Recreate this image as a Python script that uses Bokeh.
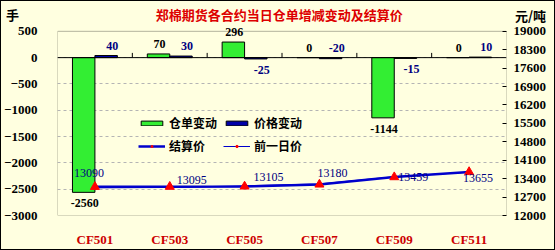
from bokeh.plotting import figure
from bokeh.models import (Range1d, LinearAxis, FixedTicker, Label, Legend,
                          LegendItem, Span, ColumnDataSource, BoxAnnotation, Plot)
from bokeh.layouts import column
from bokeh.transform import dodge
from bokeh.embed import file_html
from bokeh.resources import INLINE

# ---------------- data ----------------
categories = ["CF501", "CF503", "CF505", "CF507", "CF509", "CF511"]
warehouse_change = [-2560, 70, 296, 0, -1144, 0]      # 仓单变动 (手)
price_change = [40, 30, -25, -20, -15, 10]            # 价格变动
settle_price = [13090, 13095, 13105, 13180, 13459, 13655]   # 结算价 (元/吨)
prev_price = [13050, 13065, 13130, 13200, 13474, 13645]     # 前一日价
left_ticks = [-3000, -2500, -2000, -1500, -1000, -500, 0, 500]
right_ticks = [12000, 12700, 13400, 14100, 14800, 15500, 16200, 16900,
               17600, 18300, 19000]
title_text = "郑棉期货各合约当日仓单增减变动及结算价"
left_unit = "手"
right_unit = "元/吨"

# ---------------- layout / style constants ----------------
BG = "#FFFFE0"
GREEN = "#33EE33"
BLUE = "#0000A8"
LINE_BLUE = "#0000CC"
DARK_RED = "#CC0000"
TITLE_RED = "#DD0000"
NAVY = "#000080"
NUM_FONT = "Liberation Serif"
CJK_FONT = "Noto Sans CJK SC"

W = 553                 # canvas width (inside 1px border)
STRIP_H = 23            # height of the heading strip
MAIN_H = 225            # height of the chart canvas
FRAME_L = 52            # frame left (canvas px)
FRAME_R = 505           # frame right (canvas px)
BOX_TOP_PX = 7          # px between chart canvas top and plot-area top
BOX_H_PX = 189          # plot-area height in px
MAIN_BOTTOM = 29

LABEL_ABOVE_ZERO = {"CF507"}     # categories whose labels sit above the zero line
price_dx = [-6, 22, 24, 13, 19, 9]
price_dy = [14, 7, 9, 11, 0, -6]

extra = {"frame_align": False} if "frame_align" in Plot.properties() else {}

xs = list(range(len(categories)))
n = len(categories)
ux = n / (FRAME_R - FRAME_L)           # data units per px horizontally
x_lo, x_hi = -0.5, n - 0.5

lspan = left_ticks[-1] - left_ticks[0]
rspan = right_ticks[-1] - right_ticks[0]
y_top = left_ticks[-1] + lspan / BOX_H_PX * BOX_TOP_PX
r_top = right_ticks[-1] + rspan / BOX_H_PX * BOX_TOP_PX

# ---------------- heading strip ----------------
strip = figure(width=W, height=STRIP_H, output_backend="svg", toolbar_location=None,
               x_range=Range1d(x_lo - FRAME_L * ux, x_lo + (W - FRAME_L) * ux),
               y_range=Range1d(STRIP_H, 0),
               x_axis_type=None, y_axis_type=None,
               min_border=0, min_border_left=0, min_border_right=0,
               min_border_top=0, min_border_bottom=0,
               background_fill_color=BG, border_fill_color=BG,
               outline_line_color=None, **extra)
strip.grid.visible = False

strip.add_layout(Label(x=(x_lo + x_hi) / 2 - 0.01, y=13, text=title_text,
                       text_align="center", text_baseline="middle",
                       text_font=CJK_FONT, text_font_style="bold",
                       text_font_size="13px", text_color=TITLE_RED))
strip.add_layout(Label(x=x_lo - 41 * ux, y=13, text=left_unit,
                       text_align="center", text_baseline="middle",
                       text_font=CJK_FONT, text_font_style="bold",
                       text_font_size="13px", text_color="black"))
strip.add_layout(Label(x=x_lo + (FRAME_R - FRAME_L + 24) * ux, y=13.5,
                       text=right_unit, text_align="center",
                       text_baseline="middle", text_font=CJK_FONT,
                       text_font_style="bold", text_font_size="13px",
                       text_color="black"))

# ---------------- main chart ----------------
p = figure(width=W, height=MAIN_H, output_backend="svg", toolbar_location=None,
           x_range=Range1d(x_lo, x_hi),
           y_range=Range1d(left_ticks[0], y_top),
           min_border_left=FRAME_L, min_border_right=W - FRAME_R,
           min_border_top=0, min_border_bottom=MAIN_BOTTOM,
           background_fill_color=BG, border_fill_color=BG,
           outline_line_color=None, **extra)
p.extra_y_ranges = {"price": Range1d(right_ticks[0], r_top)}

p.yaxis.ticker = FixedTicker(ticks=left_ticks)
p.yaxis.major_tick_line_color = None
p.yaxis.minor_tick_line_color = None
p.yaxis.axis_line_color = None
p.yaxis.major_label_standoff = 14
p.yaxis.major_label_text_font = NUM_FONT
p.yaxis.major_label_text_font_style = "bold"
p.yaxis.major_label_text_font_size = "13px"
p.yaxis.major_label_text_color = "black"

p.xaxis.ticker = FixedTicker(ticks=xs)
p.xaxis.major_label_overrides = {i: c for i, c in zip(xs, categories)}
p.xaxis.major_tick_line_color = None
p.xaxis.minor_tick_line_color = None
p.xaxis.axis_line_color = None
p.xaxis.major_label_standoff = 10
p.xaxis.major_label_text_font = NUM_FONT
p.xaxis.major_label_text_font_style = "bold"
p.xaxis.major_label_text_font_size = "13px"
p.xaxis.major_label_text_color = DARK_RED

raxis = LinearAxis(y_range_name="price", ticker=FixedTicker(ticks=right_ticks))
raxis.major_tick_in = 4
raxis.major_tick_out = 0
raxis.major_tick_line_color = "black"
raxis.minor_tick_line_color = None
raxis.axis_line_color = None
raxis.major_label_standoff = 7
raxis.major_label_text_font = NUM_FONT
raxis.major_label_text_font_style = "bold"
raxis.major_label_text_font_size = "13px"
raxis.major_label_text_color = "black"
p.add_layout(raxis, "right")

p.xgrid.grid_line_color = None
p.ygrid.ticker = FixedTicker(ticks=left_ticks[1:-1])
p.ygrid.grid_line_color = "#B4B4B4"
p.ygrid.grid_line_dash = "3 3"

# plot-area box, zero line, category separators
p.add_layout(BoxAnnotation(left=x_lo, right=x_hi, bottom=left_ticks[0],
                           top=left_ticks[-1], fill_alpha=0,
                           line_color="black", line_width=1, level="underlay"))
p.add_layout(Span(location=0, dimension="width", line_color="black", line_width=1))
bounds = [i + 0.5 for i in xs[:-1]]
p.segment(x0=bounds, y0=[0] * len(bounds), x1=bounds, y1=[90] * len(bounds),
          line_color="black", line_width=1)

src = ColumnDataSource(dict(x=xs, wh=warehouse_change, pc=price_change,
                            settle=settle_price, prev=prev_price))
g_bar = p.vbar(x=dodge("x", -0.15), top="wh", bottom=0, width=0.3, source=src,
               fill_color=GREEN, line_color="black", line_width=1)
b_bar = p.vbar(x=dodge("x", 0.15), top="pc", bottom=0, width=0.3, source=src,
               fill_color=BLUE, line_color="black", line_width=1)

prev_line = p.line(x="x", y="prev", source=src, y_range_name="price",
                   line_color=LINE_BLUE, line_width=1)
prev_pts = p.scatter(x="x", y="prev", source=src, y_range_name="price",
                     marker="circle", size=3, fill_color="red", line_color="red")
settle_line = p.line(x="x", y="settle", source=src, y_range_name="price",
                     line_color=LINE_BLUE, line_width=2.5)
settle_pts = p.scatter(x="x", y="settle", source=src, y_range_name="price",
                       marker="triangle", size=9, fill_color="red", line_color="red")

for i, c in enumerate(categories):
    for v, dx, xoff, color in ((warehouse_change[i], -0.15, 1, "black"),
                               (price_change[i], 0.15, 6, NAVY)):
        if c in LABEL_ABOVE_ZERO or v >= 0:
            y, off = max(v, 0), 10
        else:
            y, off = v, -11
        p.add_layout(Label(x=i + dx, y=y, x_offset=xoff, y_offset=off,
                           text=str(v), text_align="center",
                           text_baseline="middle", text_font=NUM_FONT,
                           text_font_style="bold", text_font_size="12px",
                           text_color=color))
    p.add_layout(Label(x=i, y=settle_price[i], y_range_name="price",
                       x_offset=price_dx[i], y_offset=price_dy[i],
                       text=str(settle_price[i]), text_align="center",
                       text_baseline="middle", text_font=NUM_FONT,
                       text_font_size="12px", text_color=NAVY))

legend = Legend(items=[
    LegendItem(label="仓单变动", renderers=[g_bar]),
    LegendItem(label="价格变动", renderers=[b_bar]),
    LegendItem(label="结算价", renderers=[settle_line, settle_pts]),
    LegendItem(label="前一日价", renderers=[prev_line, prev_pts]),
], location=(81, 61), orientation="horizontal", ncols=2,
    glyph_width=27, glyph_height=6, label_height=14, spacing=6,
    label_standoff=4, padding=0, margin=0,
    border_line_color=None, background_fill_alpha=0,
    label_text_font=CJK_FONT, label_text_font_style="bold",
    label_text_font_size="12px", label_text_color="black")
p.add_layout(legend, "center")

layout = column(strip, p, spacing=0,
                styles={"border": "1px solid black", "background-color": BG})

open("out.html", "w").write(file_html(layout, INLINE))
